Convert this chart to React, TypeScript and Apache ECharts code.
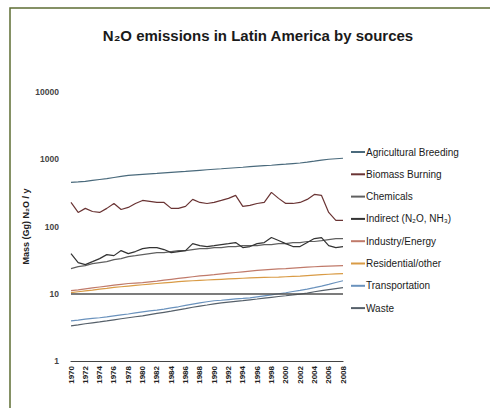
import React, { useEffect, useRef } from "react";
import * as echarts from "echarts";

const years: string[] = [];
for (let y = 1970; y <= 2008; y++) years.push(String(y));

const agricultural = [454,460,470,485,500,515,535,555,575,585,595,605,615,628,640,650,660,672,685,698,710,722,735,748,760,775,790,802,815,830,845,862,880,905,935,968,1000,1018,1035];
const biomass = [228,162,186,167,162,186,220,179,192,220,244,236,228,228,186,186,199,253,228,220,228,244,262,290,199,206,220,228,322,262,220,220,228,253,300,290,162,123,123];
const chemicals = [23.6,25.3,26.2,28.0,29.0,30.0,32.2,33.3,35.7,36.9,38.2,39.5,40.9,40.9,42.4,43.8,43.8,45.4,46.9,46.9,48.6,48.6,50.3,50.3,52.0,52.0,52.0,53.9,53.9,55.7,55.7,57.7,57.7,59.8,59.8,61.8,64.0,66.2,66.2];
const indirect = [39.5,29.0,27.1,30.0,33.3,38.2,36.9,43.8,39.5,42.4,46.9,48.6,48.6,45.4,40.9,42.4,43.8,55.7,52.0,50.3,52.0,53.9,55.7,57.7,48.6,50.3,55.7,57.7,68.5,61.8,55.7,50.3,50.3,57.7,66.2,68.5,52.0,48.6,50.3];
const industry = [11.1,11.4,11.8,12.2,12.6,13.0,13.4,13.8,14.2,14.4,14.6,15.0,15.4,15.9,16.4,16.9,17.4,17.9,18.4,18.8,19.2,19.7,20.2,20.7,21.2,21.7,22.2,22.7,23.1,23.4,23.6,24.0,24.4,24.8,25.2,25.5,25.8,26.0,26.2];
const residential = [10.4,10.7,11.0,11.3,11.7,12.0,12.4,12.7,13.0,13.3,13.6,13.9,14.2,14.5,14.8,15.1,15.4,15.6,15.8,16.0,16.2,16.4,16.6,16.8,17.0,17.2,17.4,17.5,17.6,17.7,17.9,18.1,18.3,18.6,18.9,19.2,19.5,19.7,19.9];
const transportation = [3.95,4.05,4.2,4.3,4.4,4.54,4.7,4.85,5.0,5.2,5.38,5.55,5.7,5.9,6.15,6.4,6.7,7.0,7.3,7.6,7.87,8.0,8.2,8.4,8.55,8.71,9.0,9.3,9.6,10.0,10.35,10.8,11.2,11.7,12.3,13.0,13.8,14.7,15.6];
const waste = [3.33,3.45,3.58,3.7,3.82,3.95,4.1,4.25,4.4,4.55,4.7,4.9,5.1,5.3,5.5,5.77,6.0,6.3,6.55,6.8,7.09,7.3,7.5,7.7,7.9,8.13,8.35,8.6,8.85,9.1,9.33,9.6,9.9,10.2,10.7,11.1,11.5,11.9,12.3];
const referenceLevel = 10;

const seriesNames = [
  "Agricultural Breeding",
  "Biomass Burning",
  "Chemicals",
  "Indirect (N₂O, NH₃)",
  "Industry/Energy",
  "Residential/other",
  "Transportation",
  "Waste",
];
const seriesData = [agricultural, biomass, chemicals, indirect, industry, residential, transportation, waste];
const seriesColors = ["#4a6a7c", "#6a3434", "#606060", "#333333", "#c07a6a", "#d99b45", "#6a92bd", "#56606a"];

export default function App() {
  const ref = useRef<HTMLDivElement>(null);
  useEffect(() => {
    if (!ref.current) return;
    const chart = echarts.init(ref.current, undefined, { renderer: "svg" });
    const series: any[] = seriesNames.map((name, i) => ({
      name,
      type: "line",
      data: seriesData[i],
      showSymbol: false,
      symbol: "none",
      lineStyle: { color: seriesColors[i], width: 1.2 },
      itemStyle: { color: seriesColors[i] },
    }));
    series[7].markLine = {
      silent: true,
      symbol: "none",
      label: { show: false },
      lineStyle: { color: "#505050", width: 1.5, type: "solid" },
      data: [{ yAxis: referenceLevel }],
    };
    chart.setOption({
      animation: false,
      backgroundColor: "#ffffff",
      graphic: [
        {
          type: "rect",
          shape: { x: 10, y: 8, width: 520, height: 440 },
          style: { fill: "none", stroke: "#5d6e33", lineWidth: 1.5 },
          silent: true,
        },
      ],
      title: {
        text: "N₂O emissions in Latin America by sources",
        left: 253,
        textAlign: "center",
        top: 23,
        textStyle: { fontFamily: "Liberation Sans", fontWeight: "bold", fontSize: 15, color: "#1a1a1a" },
      },
      legend: {
        orient: "vertical",
        left: 346,
        top: 142,
        itemGap: 12.3,
        itemWidth: 14,
        itemHeight: 2,
        icon: "rect",
        textStyle: { fontFamily: "Liberation Sans", fontSize: 10, color: "#1a1a1a", padding: [0, 0, 0, -4] },
        data: seriesNames,
      },
      grid: { left: 71, right: 147, top: 92, bottom: 47 },
      xAxis: {
        type: "category",
        data: years,
        boundaryGap: false,
        axisLine: { show: true, lineStyle: { color: "#444", width: 1.2 } },
        axisTick: { show: false },
        axisLabel: {
          interval: 1,
          rotate: 90,
          fontFamily: "Liberation Sans",
          fontSize: 8,
          fontWeight: "bold",
          color: "#222",
          margin: 5,
        },
        splitLine: { show: false },
      },
      yAxis: {
        type: "log",
        logBase: 10,
        min: 1,
        max: 10000,
        name: "Mass (Gg) N₂O / y",
        nameLocation: "middle",
        nameGap: 41,
        nameMoveOverlap: false,
        nameTextStyle: { fontFamily: "Liberation Sans", fontSize: 9, fontWeight: "bold", color: "#222" },
        axisLine: { show: false },
        axisTick: { show: false },
        splitLine: { show: false },
        axisLabel: {
          fontFamily: "Liberation Sans",
          fontSize: 8.5,
          fontWeight: "bold",
          color: "#444",
          margin: 12,
          formatter: (v: number) => String(Math.round(v)),
        },
      },
      series,
    });
    return () => chart.dispose();
  }, []);
  return <div ref={ref} style={{ position: "fixed", left: 0, top: 0, width: 490, height: 408 }} />;
}
